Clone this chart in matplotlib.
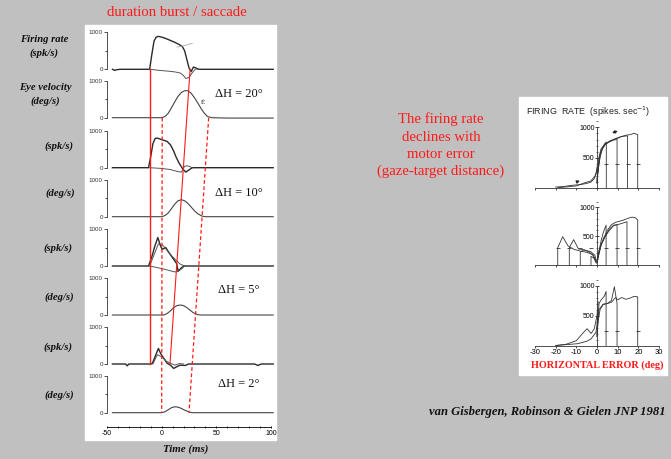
import matplotlib
matplotlib.use("Agg")
import matplotlib.pyplot as plt
from matplotlib.ticker import MultipleLocator, FixedLocator
from matplotlib.patches import Rectangle

plt.rcParams["axes.unicode_minus"] = False

# ── canvas (pixel layout of the slide) ─────────────────────
W, H = 671, 459
BG = "#c0c0c0"
RED = "#ff1a1a"
INK = "#2a2a2a"
SERIF = "Liberation Serif"
SANS = "Liberation Sans"

# ── left figure: firing rate (spk/s) and eye velocity (deg/s) vs time (ms) ──
# dH = 20 deg
fr20_t = [-45, -43, -41, -38, -20, -11, -9, -7, -5, -3, 0, 4, 8, 12, 16, 19, 21, 23, 25, 27, 29, 31, 34, 40, 70, 102]
fr20_v = [0, -30, -10, 0, 0, 0, 400, 760, 870, 890, 870, 830, 780, 730, 670, 610, 500, 270, 40, -60, 60, 40, 0, 0, 0, 0]
fr20b_t = [-11, -2, 6, 12, 17, 20, 22, 25, 28, 31, 34]
fr20b_v = [0, -30, -50, -70, -100, -170, -250, -220, -90, 10, 0]
fr20c_t = [14, 18, 22, 25, 28]
fr20c_v = [600, 620, 650, 680, 700]
ev20_t = [-45, -10, 0, 3, 6, 9, 12, 15, 18, 21, 24, 27, 30, 33, 36, 39, 42, 46, 60, 102]
ev20_v = [0, 0, 0, 30, 120, 270, 430, 580, 680, 730, 730, 660, 540, 400, 250, 120, 30, 0, -10, -10]

# dH = 10 deg
fr10_t = [-45, -20, -12, -10, -8, -6, -4, -2, 1, 5, 8, 11, 13, 16, 19, 22, 25, 28, 31, 40, 102]
fr10_v = [0, 0, 0, 300, 650, 790, 800, 780, 750, 710, 620, 450, 300, 120, -20, -120, -60, 0, 0, 0, 0]
fr10b_t = [-11, 0, 8, 14, 18, 21, 24, 28]
fr10b_v = [0, -20, -50, -100, -120, 40, 50, 0]
ev10_t = [-45, 0, 3, 6, 9, 12, 15, 18, 21, 24, 27, 30, 33, 37, 40, 102]
ev10_v = [0, 0, 30, 100, 220, 340, 430, 460, 430, 360, 260, 160, 80, 15, 0, 0]

# dH = 5 deg
fr5_t = [-45, -20, -12, -9, -6, -3.5, -1, 0.6, 3.7, 6.7, 9.8, 13.8, 15, 18, 20.5, 30, 102]
fr5_v = [0, 0, 0, 250, 560, 770, 540, 450, 500, 360, 230, 60, -140, -50, 0, 0, 0]
fr5b_t = [-11, -7, -3, 1, 5, 9, 13, 17, 21]
fr5b_v = [0, 300, 600, 560, 420, 280, 160, 50, 0]
fr5c_t = [-11, -3, 3, 8, 12, 15, 18, 21]
fr5c_v = [0, -50, -90, -130, -160, -150, -80, 0]
ev5_t = [-45, 2, 5, 8, 11, 14, 17, 20, 23, 26, 29, 33, 36, 102]
ev5_v = [0, 0, 40, 110, 200, 255, 270, 255, 200, 130, 60, 10, 0, 0]

# dH = 2 deg
fr2_t = [-45, -33, -31.5, -30, -20, -10, -8.5, -6, -3, -1, 2, 5, 8, 11, 14, 17, 21.6, 24.6, 40, 85, 88, 91, 102]
fr2_v = [0, 0, -50, 0, 0, 0, 20, 200, 420, 290, 150, 20, -30, -120, -70, -30, -40, 0, 0, 0, -40, 0, 0]
fr2b_t = [-8, -4, 0, 4, 8, 12, 16, 20]
fr2b_v = [0, 250, 200, 80, 20, -30, 10, 0]
ev2_t = [-45, 0, 3, 6, 9, 12, 15, 18, 21, 25, 28, 102]
ev2_v = [0, 0, 25, 80, 135, 160, 150, 115, 70, 20, 0, 0]

amp_labels = ["ΔH = 20°", "ΔH = 10°", "ΔH = 5°", "ΔH = 2°"]
row_units = ["(spk/s)", "(deg/s)"] * 4
time_ticks = [-50, 0, 50, 100]

# event times (ms) at top / bottom of the stack
burst_on = [-11, -11]
burst_off = [26, 7.6]
sacc_on = [0.5, 0]
sacc_off = [43, 25]

# ── right figure: firing rate vs horizontal motor error (deg) ──
# panel A
eA1 = [4.5, 4.5, 3.5, 2.5, 1.5, 0.8, 0.3, 0]
rA1 = [0, 760, 720, 640, 520, 350, 200, 80]
eA2 = [9.7, 9.7, 8, 6, 4, 2.5, 1.5, 0.5, 0]
rA2 = [0, 800, 790, 760, 720, 640, 520, 300, 100]
eA3 = [14.8, 14.8, 12, 10, 8, 6, 4, 2, 1, 0.3, 0]
rA3 = [0, 860, 850, 820, 800, 770, 730, 650, 520, 250, 100]
eA4 = [19.7, 19.7, 18, 16, 14, 12, 10, 8, 6, 4, 2, 1, 0]
rA4 = [0, 880, 900, 880, 870, 850, 830, 800, 770, 720, 620, 480, 150]
eA5 = [-20, -16, -12, -8, -5, -3, -1.5, -0.5, 0]
rA5 = [20, 30, 50, 60, 80, 100, 150, 220, 350]
eA6 = [-19, -14, -10, -6, -3, -1, 0]
rA6 = [10, 25, 40, 90, 120, 200, 300]
# panel B
eB1 = [4.4, 4.4, 3, 2, 1, 0]
rB1 = [0, 690, 560, 420, 250, 60]
eB2 = [9.7, 9.7, 8, 6, 4, 2, 1, 0]
rB2 = [0, 700, 680, 600, 500, 350, 200, 50]
eB3 = [14.5, 14.5, 12, 10, 8, 6, 4, 2, 0]
rB3 = [0, 750, 720, 700, 690, 620, 500, 350, 50]
eB4 = [19.7, 19.7, 18.5, 17, 15, 13, 11, 9, 7, 5, 3, 1, 0]
rB4 = [0, 780, 820, 830, 810, 780, 760, 740, 700, 600, 450, 250, 50]
eB5 = [-19, -19, -16.6, -14, -11, -8, -5, -2, -0.5]
rB5 = [0, 300, 490, 330, 270, 240, 220, 180, 80]
eB6 = [-13.4, -13.4, -11.3, -9, -6, -3, -1, -0.3]
rB6 = [0, 300, 440, 280, 260, 230, 170, 60]
eB7 = [-8.1, -8.1, -6.5, -4, -2, -0.5]
rB7 = [0, 220, 260, 230, 170, 50]
eB8 = [-2.9, -2.9, -1.5, -0.3]
rB8 = [0, 150, 120, 30]
# panel C
eC1 = [4.4, 4.4, 3.5, 2, 1, 0.3, 0]
rC1 = [0, 900, 820, 760, 700, 400, 150]
eC2 = [9.7, 9.7, 8.4, 7, 5, 3, 1.5, 0.5, 0]
rC2 = [0, 700, 980, 750, 700, 680, 600, 400, 150]
eC3 = [19.7, 19.7, 18, 16, 14, 12, 10, 9, 7, 5, 3, 1, 0]
rC3 = [0, 810, 820, 790, 770, 800, 760, 800, 720, 700, 690, 600, 200]
eC4 = [-20, -15, -10, -7, -4.8, -2.9, -1.3, 0, 0.6]
rC4 = [0, 20, 80, 200, 280, 200, 280, 500, 730]
eC5 = [-20, -9.4, -5, -2.9, -0.5, 0, 0.4]
rC5 = [0, 30, 70, 110, 220, 350, 550]

err_ticks = [-30, -20, -10, 0, 10, 20, 30]
rate_ticks = [500, 1000]
start_marks = [400, 300, 250]   # small tick drawn on each saccade-onset line


def px_axes(fig, left, top, width, height):
    ax = fig.add_axes([left / W, 1 - (top + height) / H, width / W, height / H])
    ax.patch.set_visible(False)
    return ax


fig = plt.figure(figsize=(W / 100, H / 100), dpi=100)
fig.patch.set_facecolor(BG)

# white paper behind each scanned figure
for (x0, y0, x1, y1) in [(85, 25, 276, 440), (519, 97, 667, 375)]:
    fig.add_artist(Rectangle((x0 / W, 1 - y1 / H), (x1 - x0) / W, (y1 - y0) / H,
                             transform=fig.transFigure, color="white", zorder=-10))

# ── left stack ──────────────────────────────────────────────
zeros = [69.3, 117.7, 167.7, 216.7, 266, 315, 364, 412.7]   # pixel row of each 0 line
SC = 37.0                                                 # px per 1000
X0, XW = 107, 164 * 153 / 150
rows = [
    [(fr20_t, fr20_v, INK, 1.0), (fr20b_t, fr20b_v, "#555", 0.7), (fr20c_t, fr20c_v, "#999", 0.5)],
    [(ev20_t, ev20_v, "#444", 0.8)],
    [(fr10_t, fr10_v, INK, 1.0), (fr10b_t, fr10b_v, "#555", 0.7)],
    [(ev10_t, ev10_v, "#444", 0.8)],
    [(fr5_t, fr5_v, INK, 1.0), (fr5b_t, fr5b_v, "#555", 0.7), (fr5c_t, fr5c_v, "#555", 0.7)],
    [(ev5_t, ev5_v, "#444", 0.8)],
    [(fr2_t, fr2_v, INK, 1.0), (fr2b_t, fr2b_v, "#555", 0.7)],
    [(ev2_t, ev2_v, "#444", 0.8)],
]
for z, traces in zip(zeros, rows):
    ax = px_axes(fig, X0, z - SC, XW, SC * 1.3)
    ax.set_xlim(-50, 103)
    ax.set_ylim(-300, 1000)
    for t, v, c, lw in traces:
        ax.plot(t, v, color=c, lw=lw)
    for s in ("top", "right", "bottom"):
        ax.spines[s].set_visible(False)
    ax.spines["left"].set_bounds(0, 1000)
    ax.spines["left"].set_linewidth(0.6)
    ax.spines["left"].set_color("#333")
    ax.set_xticks([])
    ax.yaxis.set_major_locator(FixedLocator([0, 1000]))
    ax.yaxis.set_minor_locator(FixedLocator([500]))
    ax.tick_params(axis="y", which="major", labelsize=4.5, length=2, width=0.6, pad=1, colors="#333")
    ax.tick_params(axis="y", which="minor", length=1.5, width=0.5)
    for lab in ax.get_yticklabels():
        lab.set_family(SANS)

# time axis
axt = px_axes(fig, X0, 416, XW, 10.7)
axt.set_xlim(-50, 103)
axt.set_ylim(0, 1)
for s in ("top", "right", "left"):
    axt.spines[s].set_visible(False)
axt.spines["bottom"].set_bounds(-50, 100)
axt.spines["bottom"].set_linewidth(0.6)
axt.set_yticks([])
axt.set_xticks(time_ticks)
axt.xaxis.set_minor_locator(MultipleLocator(10))
axt.tick_params(axis="x", which="major", labelsize=5, length=2, width=0.6, pad=1.5, direction="inout")
axt.tick_params(axis="x", which="minor", length=1.5, width=0.5, direction="inout")
for lab in axt.get_xticklabels():
    lab.set_family(SANS)

# red markers of burst / saccade timing across the stack
ov = px_axes(fig, X0, 0, XW, H)
ov.set_xlim(-50, 103)
ov.set_ylim(H, 0)
ov.axis("off")
ov.plot(burst_on, [zeros[0], zeros[6]], color=RED, lw=1.0)
ov.plot(burst_off, [zeros[0], zeros[6]], color=RED, lw=0.8)
ov.plot(sacc_on, [zeros[1], zeros[7]], color=RED, lw=0.9, ls=(0, (3, 2)))
ov.plot(sacc_off, [zeros[1], zeros[7]], color=RED, lw=0.9, ls=(0, (3, 2)))

# ── right stack ─────────────────────────────────────────────
RX0 = 535 - 124 / 60
RXW = 124 * 62 / 60
panels = [
    (188.3, 61.0, [(eA1, rA1), (eA2, rA2), (eA3, rA3), (eA4, rA4), (eA5, rA5), (eA6, rA6)]),
    (265.0, 57.7, [(eB1, rB1), (eB2, rB2), (eB3, rB3), (eB4, rB4), (eB5, rB5), (eB6, rB6), (eB7, rB7), (eB8, rB8)]),
    (345.5, 60.0, [(eC1, rC1), (eC2, rC2), (eC3, rC3), (eC4, rC4), (eC5, rC5)]),
]
for i, (z, sc, curves) in enumerate(panels):
    lo, hi = -60, 1100
    ax = px_axes(fig, RX0, z - sc * hi / 1000, RXW, sc * (hi - lo) / 1000)
    ax.set_xlim(-31, 31)
    ax.set_ylim(lo, hi)
    starts = []
    for e, r in curves:
        ax.plot(e, r, color="#333", lw=0.6)
        if r[0] == 0 and e[0] == e[1]:
            starts.append(e[0])
    ax.plot(starts, [start_marks[i]] * len(starts), ls="none", marker="_", ms=2.5, mew=0.6, color="#333")
    ax.spines["top"].set_visible(False)
    ax.spines["right"].set_visible(False)
    ax.spines["left"].set_position(("data", 0))
    ax.spines["bottom"].set_position(("data", 0))
    ax.spines["left"].set_bounds(0, 1000)
    ax.spines["bottom"].set_bounds(-30, 30)
    for s in ("left", "bottom"):
        ax.spines[s].set_linewidth(0.6)
        ax.spines[s].set_color("#333")
    ax.yaxis.set_major_locator(FixedLocator(rate_ticks))
    ax.yaxis.set_minor_locator(MultipleLocator(100))
    ax.set_xticks(err_ticks)
    ax.tick_params(axis="y", which="major", labelsize=5, length=2.5, width=0.5, pad=0.5, direction="inout")
    ax.tick_params(axis="y", which="minor", length=1.5, width=0.4, direction="inout")
    ax.tick_params(axis="x", length=1.5, width=0.5, labelsize=5.5, pad=1)
    if i < 2:
        ax.set_xticklabels([])
    for lab in ax.get_yticklabels() + ax.get_xticklabels():
        lab.set_family(SANS)
    if i == 0:
        ax.annotate("", xy=(6, 890), xytext=(10.8, 950),
                    arrowprops=dict(arrowstyle="-|>", lw=0.9, color="#222", mutation_scale=4))
        ax.annotate("", xy=(-7, 140), xytext=(-11, 90),
                    arrowprops=dict(arrowstyle="-|>", lw=0.9, color="#222", mutation_scale=4))

# ── slide text ──────────────────────────────────────────────
def ftext(x, y, s, **kw):
    fig.text(x / W, 1 - y / H, s, **kw)


ftext(176.7, 12.3, "duration burst / saccade", ha="center", va="center", fontsize=10.6,
      color=RED, family=SERIF)
lab_kw = dict(ha="center", va="center", fontsize=7.7, fontweight="bold", style="italic", family=SERIF, color="#111")
ftext(44, 40, "Firing rate", **lab_kw)
ftext(45.7, 87.7, "Eye velocity", **lab_kw)
unit_x = [44, 45.7, 59, 60, 58.3, 59.3, 58, 59]
unit_y = [52.7, 100.7, 146, 192.7, 248.3, 296.7, 346.7, 395]
for ux, uy, u in zip(unit_x, unit_y, row_units):
    ftext(ux, uy, u, **lab_kw)
for lab, y in zip(amp_labels, [94.3, 192.7, 290, 384]):
    ftext(239, y, lab, ha="center", va="center", fontsize=9, family=SERIF, color="#111")
ftext(203, 103, "Ė", ha="center", va="center", fontsize=5, family=SERIF, color="#222")
ftext(186, 449.3, "Time (ms)", ha="center", va="center", fontsize=7.8, fontweight="bold",
      style="italic", family=SERIF, color="#111")

ftext(441, 145.5, "The firing rate\ndeclines with\nmotor error\n(gaze-target distance)",
      ha="center", va="center", fontsize=10.6, linespacing=1.41, color=RED, family=SERIF)

ftext(526, 111.7, "FIRING  RATE  (spikes. sec$^{-1}$)", ha="left", va="center", fontsize=6.4,
      family=SANS, color="#222")
ftext(597.7, 365, "HORIZONTAL ERROR (deg)", ha="center", va="center", fontsize=7.3,
      fontweight="bold", family=SERIF, color=RED)

ftext(429.3, 412.3, "van Gisbergen, Robinson & Gielen JNP 1981", ha="left", va="center",
      fontsize=9.1, fontweight="bold", style="italic", family=SERIF, color="#111")

fig.savefig("out.png", dpi=100, facecolor=BG)
